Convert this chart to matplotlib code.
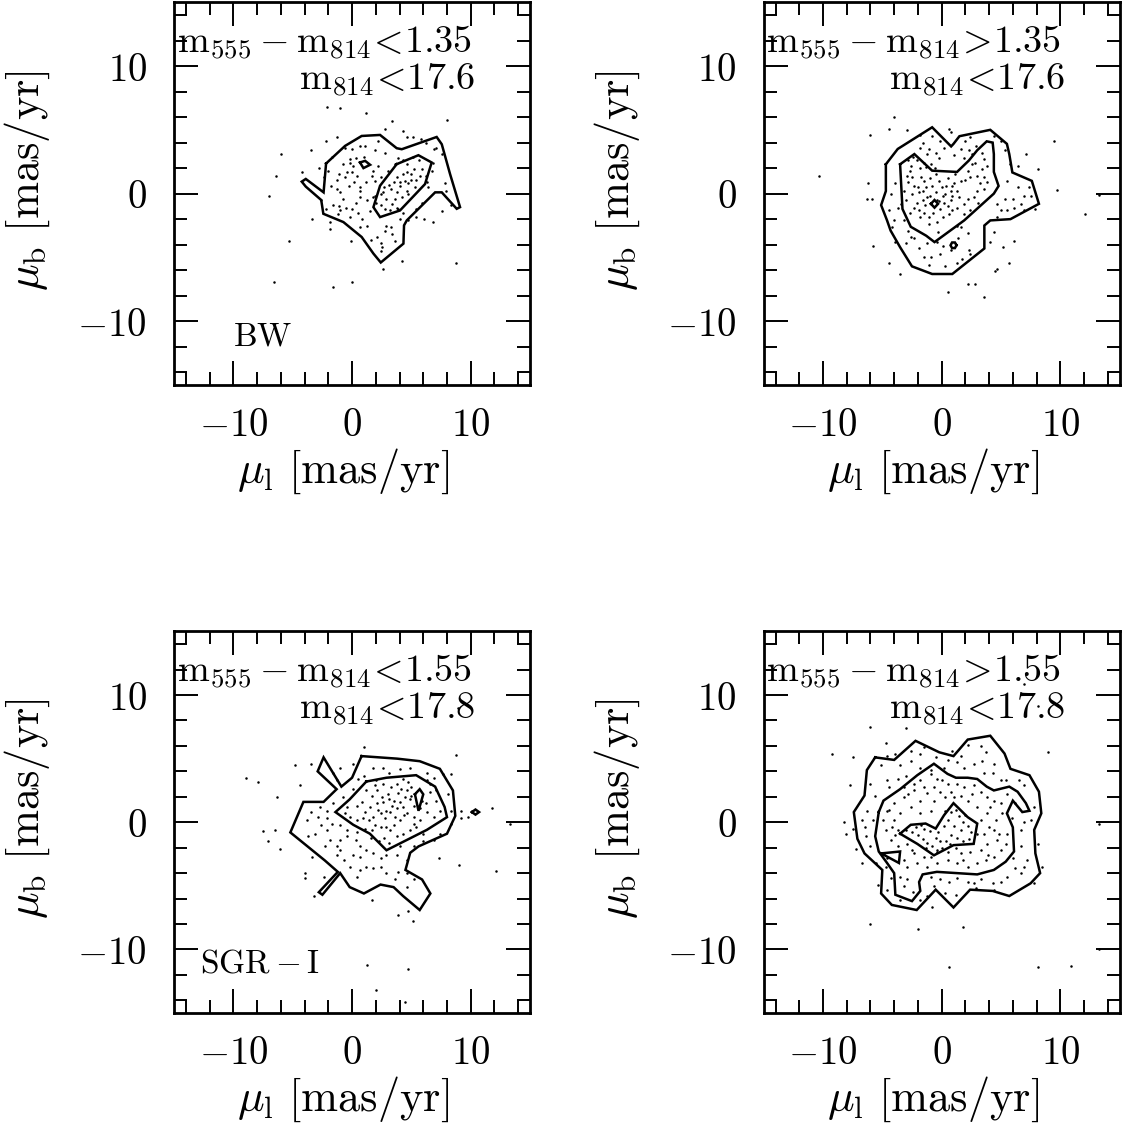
import matplotlib
matplotlib.use("Agg")
import matplotlib.pyplot as plt
from matplotlib.ticker import MultipleLocator, FixedLocator, FixedFormatter
import numpy as np

plt.rcParams['mathtext.fontset'] = 'cm'
plt.rcParams['font.family'] = ['DejaVu Serif']

# ---------------- datos: BW, azul (m555-m814<1.35) ----------------
bw_pts = [(1.2, 6.3), (3.4, 5.7), (8.0, 5.8), (2.8, 5.1), (4.3, 4.9), (4.6, 4.4), (5.1, 4.4),
          (5.8, 4.3), (6.2, 4.0), (-1.3, 4.4), (-2.2, 4.1), (-3.5, 3.4), (-6.0, 3.1), (-6.4, 1.4),
          (-7.0, -0.2), (-4.2, 1.7), (-2.8, 2.0), (-2.4, 1.3), (-2.0, 1.8), (-0.6, 3.6), (0.0, 3.5),
          (0.7, 3.7), (1.1, 3.7), (1.9, 3.4), (2.8, 3.2), (2.2, 4.1), (3.9, 2.8), (3.6, 2.3),
          (4.3, 2.6), (-0.2, 2.7), (0.3, 2.8), (-0.2, 2.4), (0.1, 2.2), (-0.8, 2.3), (-0.4, 1.7),
          (0.0, 1.7), (-1.1, 1.5), (-1.3, 1.1), (-0.6, 1.3), (0.4, 1.4), (0.7, 0.5), (1.2, 0.9),
          (1.7, 1.4), (1.8, 1.8), (2.2, 2.2), (1.9, 1.0), (2.4, 1.3), (-1.3, 0.4), (-1.0, 0.1),
          (-0.3, 0.6), (0.7, 0.2), (1.3, -0.5), (1.8, -0.3), (0.7, -0.3), (-2.6, -0.5), (-1.6, -0.9),
          (-1.1, -1.0), (-0.5, -1.1), (0.0, -1.2), (-1.0, -1.3), (-1.2, -1.6), (-0.2, -1.8),
          (0.5, -1.5), (0.8, -2.0), (1.3, -2.5), (0.7, -2.6), (-3.4, -2.0), (-1.9, -2.2),
          (-1.9, -2.8), (-5.3, -3.7), (-0.1, -3.7), (2.1, -3.4), (2.9, -2.5), (3.3, -2.6),
          (2.8, -2.9), (3.4, -3.2), (3.6, -3.7), (2.4, -3.9), (2.5, -4.2), (2.4, -4.5), (4.2, -5.3),
          (2.6, -5.9), (8.8, -5.4), (-6.6, -6.9), (-1.6, -7.3), (0.0, -6.9), (4.7, -2.1),
          (5.4, -1.8), (6.1, -2.0), (6.8, -2.2), (7.6, -1.4), (8.3, -0.9), (5.9, -0.7), (5.4, -1.2),
          (4.3, -1.5), (3.9, -1.2), (7.8, 0.8), (7.9, 0.2), (6.4, 0.5), (6.3, 0.9), (6.2, 1.4),
          (6.7, 1.8), (6.9, 3.5), (7.1, 3.6), (7.6, 3.1), (6.8, 2.4), (4.6, 2.3), (5.2, 1.9),
          (5.6, 2.6), (5.9, 1.9), (5.7, 1.4), (5.4, 1.1), (5.0, 1.5), (4.6, 1.7), (4.3, 1.5),
          (4.5, 1.0), (4.0, 0.9), (3.8, 1.3), (3.5, 0.9), (3.3, 0.4), (3.8, 0.1), (4.0, 0.6),
          (4.7, 0.8), (5.3, 0.5), (4.6, 0.2), (4.2, -0.3), (3.6, -0.4), (3.4, -0.8), (2.9, -0.4),
          (2.6, 0.1), (2.7, 0.5), (2.4, 0.0), (1.9, -0.2), (2.0, -0.7), (2.4, -0.9), (2.8, -1.2),
          (3.2, -1.3), (3.8, -1.1), (3.1, 0.7), (4.7, 0.0), (5.0, 1.1), (-2.1, 6.8), (-1.0, 6.7),
          (-1.8, 0.6), (-0.8, -0.4), (0.3, -0.7), (1.0, 2.9), (-1.7, 2.9), (3.0, 1.8), (5.1, 2.9),
          (4.0, -2.0), (1.6, -3.6), (-2.2, -1.2), (0.2, 0.9), (1.5, -1.4)]
bw_outer = [(-2.19, 2.36), (-0.59, 3.74), (0.81, 4.52), (2.36, 4.60), (3.76, 3.56), (4.19, 3.48),
            (7.13, 4.44), (7.56, 3.87), (8.26, 1.53), (9.10, -1.06), (8.82, -1.19), (7.56, 0.10),
            (7.0, 0.1), (4.61, -2.10), (4.38, -2.49), (4.33, -3.92), (2.42, -5.40), (1.80, -4.70),
            (0.81, -3.40), (-0.73, -2.23), (-2.42, -1.58), (-2.60, -0.50), (-3.90, 0.55),
            (-4.24, 0.94), (-3.90, 1.15), (-2.40, 0.10), (-2.19, 2.36)]
bw_inner = [(3.76, 2.31), (5.59, 3.01), (6.71, 2.44), (6.15, 0.75), (4.04, -1.32), (2.36, -1.84),
            (1.80, -1.06), (2.36, 0.62), (3.76, 2.31)]
bw_loop = [(0.67, 2.44), (1.10, 2.57), (1.52, 2.26), (0.96, 2.00), (0.67, 2.44)]

# ---------------- BW, rojo (m555-m814>1.35) ----------------
bwr_pts = [(-4.0, 6.0), (-6.0, 4.6), (-4.4, 5.1), (-2.9, 5.0), (0.6, 5.1), (9.5, 4.1), (7.1, 3.1),
           (8.1, 1.9), (9.7, 0.3), (13.3, -0.1), (12.1, -1.6), (-6.2, 0.8), (-6.3, -0.4),
           (-5.9, -0.4), (-5.8, -4.1), (-4.4, -5.4), (-3.5, -6.3), (0.5, -7.7), (2.2, -7.1),
           (2.8, -7.1), (3.6, -8.1), (4.7, -5.9), (4.5, -6.1), (5.7, -5.4), (5.2, -4.2), (6.1, -3.7),
           (4.1, -3.8), (4.4, -3.0), (-1.6, 4.0), (-1.8, 3.6), (-1.1, 3.5), (-0.1, 4.1), (0.2, 3.6),
           (-0.2, 2.8), (-1.2, 3.1), (-0.5, 3.2), (-1.5, 2.4), (-0.9, 2.3), (-1.3, 2.1), (-2.1, 2.6),
           (-2.8, 2.6), (-2.7, 1.8), (-2.9, 1.4), (-2.5, 1.3), (-2.8, 0.9), (-3.2, 0.2), (-2.3, 0.6),
           (-1.9, 0.1), (-1.6, 0.2), (-1.3, 0.5), (-0.8, 0.6), (-1.2, -0.3), (-1.6, -0.5),
           (-2.1, -0.7), (-2.3, -1.1), (-1.9, -1.3), (-1.5, -1.5), (-1.1, -1.8), (-1.8, -1.8),
           (-1.1, -2.4), (-0.4, -2.2), (0.1, -1.8), (0.6, -1.6), (-0.1, -1.2), (0.2, -0.7),
           (0.8, -0.5), (0.3, 0.0), (0.8, 0.2), (1.3, 0.2), (0.9, 0.6), (1.6, 1.0), (2.0, 1.1),
           (2.4, 1.3), (3.0, 1.4), (2.2, 1.8), (2.6, 2.3), (1.9, 2.8), (1.6, 3.5), (2.3, 3.4),
           (2.6, 3.1), (3.4, 3.2), (3.6, 2.7), (3.8, 2.2), (3.4, 1.9), (3.6, 1.3), (3.8, 0.9),
           (3.6, 0.4), (3.0, 0.2), (2.7, -0.3), (2.2, -0.4), (1.9, -0.8), (1.3, -1.1), (2.4, -1.3),
           (1.9, -1.6), (1.6, -2.6), (1.3, -2.5), (2.2, -3.1), (2.3, -4.4), (2.4, -4.7), (1.7, -5.1),
           (1.3, -5.4), (0.3, -5.7), (0.8, -4.4), (-0.1, -4.7), (-0.9, -5.0), (-1.5, -5.0),
           (-1.9, -4.3), (-2.3, -3.5), (-2.6, -3.4), (-1.2, -3.9), (-0.4, -3.8), (0.1, -4.1),
           (-1.1, -5.6), (-3.0, -3.9), (-3.9, -3.8), (-4.2, -2.6), (-4.0, -2.1), (-4.4, -1.3),
           (-4.3, 0.0), (-3.9, 0.8), (-3.7, -1.1), (-3.2, -2.1), (-2.8, -2.9), (6.4, 2.2), (5.8, 2.3),
           (5.5, 1.0), (6.4, 0.5), (7.4, 0.5), (6.9, -0.2), (7.5, -0.2), (6.7, -0.8), (6.1, -1.1),
           (5.5, -1.3), (5.0, -1.3), (4.7, -0.8), (5.3, -0.4), (6.0, -0.4), (6.9, -1.3), (7.9, -1.2),
           (4.7, -1.8), (5.3, 3.4), (4.4, 4.5), (5.0, 4.1), (2.4, 4.4), (2.0, 4.1), (0.8, 4.8),
           (-1.8, 4.6), (-0.8, 4.5), (-0.4, -0.5), (0.0, 0.5), (0.1, -0.2), (-0.5, 0.1), (-1.0, -0.2),
           (-2.0, 0.5), (-1.5, 1.0), (-0.5, 1.5), (0.5, 1.2), (1.0, 0.8), (1.5, -0.3), (0.5, -1.0),
           (-0.7, -1.5), (-1.8, 2.0), (-2.5, 0.0), (-3.0, -0.5), (-2.6, 2.2), (3.2, 0.8), (2.8, 2.4),
           (1.0, 3.0), (-0.2, 1.0), (0.4, 0.6), (-1.0, 1.2), (-0.2, -0.6), (0.9, -0.2), (-10.3, 1.4),
           (-2.4, 2.9), (-0.6, 2.0), (1.1, 1.5), (-1.4, -0.9), (0.9, -1.3), (-2.7, -1.5), (3.1, -0.7),
           (-0.3, -3.0), (-3.4, -0.8), (2.9, 3.7), (1.4, -3.5), (-1.7, 1.3)]
bwr_outer = [(-4.7, 2.3), (-3.7, 3.5), (-0.8, 5.2), (0.8, 3.7), (1.0, 3.9), (1.5, 4.5), (4.1, 5.0),
             (5.5, 3.9), (5.7, 3.1), (5.96, 1.66), (7.6, 1.0), (8.2, -0.8), (5.8, -2.0), (4.1, -2.1),
             (3.6, -2.5), (3.6, -4.3), (0.9, -6.3), (-0.8, -6.3), (-2.5, -5.7), (-3.5, -4.2),
             (-4.3, -2.9), (-4.6, -2.1), (-5.1, -0.9), (-4.7, 0.2), (-4.7, 2.3)]
bwr_inner = [(-3.5, 2.3), (-2.3, 3.1), (-0.8, 1.8), (1.3, 1.7), (2.3, 2.6), (3.0, 3.4), (3.8, 4.1),
             (4.3, 4.0), (4.4, 3.1), (4.4, 1.7), (4.8, 0.6), (4.4, 0.0), (1.9, -2.1), (-0.6, -3.8),
             (-1.3, -3.3), (-2.6, -2.6), (-3.3, -1.2), (-3.5, 2.3)]
bwr_box = [(-0.9, -0.8), (-0.6, -0.5), (-0.3, -0.8), (-0.6, -1.1), (-0.9, -0.8)]
bwr_ring = [(1.25, -4.05), (1.12, -3.83), (0.88, -3.83), (0.75, -4.05), (0.88, -4.27),
            (1.12, -4.27), (1.25, -4.05)]

# ---------------- SGR-I, azul (m555-m814<1.55) ----------------
sg_pts = [(1.0, 5.9), (8.8, 5.3), (-8.9, 3.5), (-7.9, 3.2), (-4.8, 4.5), (-3.5, 4.6), (-4.4, 2.9),
          (-6.3, 2.0), (-7.5, -0.7), (-6.5, -0.6), (-7.1, -1.5), (-6.1, -2.1), (-3.4, -2.7),
          (-4.0, -4.0), (-4.0, -4.4), (-2.4, -4.3), (9.2, 0.3), (9.8, 0.4), (9.2, 0.9), (11.8, 1.1),
          (13.3, -0.1), (9.0, -3.4), (12.1, -3.8), (7.3, -2.8), (3.9, -7.3), (4.7, -7.0), (5.1, -7.8),
          (-3.2, -5.8), (1.7, -6.1), (8.3, 3.8), (1.3, -11.2), (4.7, -11.5), (2.0, -13.2),
          (4.5, -14.1), (8.9, 9.0), (1.2, 2.5), (1.7, 2.1), (2.1, 2.5), (2.6, 3.0), (3.3, 2.8),
          (3.8, 3.0), (4.3, 3.4), (4.7, 3.2), (5.0, 2.8), (6.3, 3.3), (6.6, 3.0), (6.9, 3.5),
          (6.6, 2.4), (7.1, 1.7), (7.4, 0.9), (6.9, 0.4), (6.3, 0.8), (6.2, 1.5), (4.9, 1.8),
          (4.5, 2.0), (4.0, 1.6), (3.5, 1.7), (3.1, 1.8), (2.6, 1.6), (2.1, 1.5), (1.5, 1.2),
          (1.1, 0.8), (1.4, 0.2), (1.8, 0.4), (2.4, 0.7), (2.8, 0.3), (3.2, 0.8), (3.6, 0.4),
          (4.0, 0.2), (4.6, 0.7), (5.2, 0.4), (5.7, 0.2), (5.4, -0.4), (4.9, -0.6), (4.3, -0.9),
          (3.8, -1.1), (3.2, -0.6), (2.9, -0.4), (2.4, -0.4), (1.9, -0.2), (1.7, -0.6), (1.1, -0.5),
          (0.4, 0.2), (-0.2, 0.4), (-0.6, 0.7), (-0.4, 1.2), (0.4, 1.3), (0.8, 1.6), (2.9, 0.9),
          (3.8, 1.1), (4.3, 1.2), (5.2, 1.3), (5.9, 1.7), (7.1, 2.5), (4.6, 2.5), (5.2, -0.1),
          (-1.0, 4.3), (-1.6, 3.9), (-1.3, 3.3), (0.1, 4.6), (1.8, 4.3), (2.6, 4.3), (4.0, 4.2),
          (4.9, 4.3), (6.3, 3.9), (7.7, 3.8), (8.1, 2.2), (8.3, 0.9), (8.3, -0.1), (7.4, -0.9),
          (6.9, -1.4), (6.0, -1.5), (5.2, -1.9), (4.0, -1.9), (3.8, -2.6), (2.9, -2.6), (2.4, -2.8),
          (1.8, -2.4), (1.2, -2.2), (0.7, -1.9), (0.3, -1.4), (-0.4, -1.1), (-1.0, -1.4),
          (-1.3, -1.9), (-1.9, -1.4), (-2.3, -1.9), (-2.1, -0.6), (-2.6, -0.2), (-3.1, -0.9),
          (-3.7, -1.1), (-3.8, 0.2), (-3.5, 0.8), (-2.7, 1.2), (-2.1, 0.9), (-1.7, -0.1),
          (-1.0, -0.2), (-0.4, -0.6), (0.7, -2.7), (1.2, -3.5), (1.8, -3.6), (2.4, -3.5),
          (2.9, -4.0), (0.7, -3.75), (0.4, -4.3), (-0.2, -3.5), (-0.7, -3.0), (-1.0, -2.2),
          (4.6, -4.0), (5.2, -4.5), (4.6, -5.1), (3.6, -4.5), (3.9, -3.9), (4.6, -3.0), (-1.3, -2.6),
          (-2.1, 0.3), (0.5, 3.4), (3.1, 3.9), (3.0, 2.2), (3.9, 2.3), (4.4, 0.6), (2.2, 1.0),
          (1.6, -1.2), (2.3, -1.5), (3.1, -1.6), (5.7, 1.1), (6.0, -0.9), (1.0, 3.6), (2.0, 3.3),
          (0.1, 2.6), (-0.8, 2.0), (0.4, -0.8), (-1.6, 1.5), (2.5, 2.0), (3.4, 1.3), (4.1, 2.6),
          (5.0, 2.1), (1.9, 2.9), (0.9, 0.3), (3.5, -0.2), (2.7, -1.2), (-2.9, 0.4), (0.1, -2.6)]
sg_outer = [(0.8, 5.2), (3.8, 5.0), (5.7, 4.8), (7.4, 4.2), (8.5, 2.5), (8.7, 0.5), (8.0, -0.9),
            (5.6, -1.9), (4.9, -2.4), (4.5, -3.75), (5.9, -4.5), (6.6, -5.6), (5.7, -6.9),
            (4.3, -5.8), (3.5, -5.1), (2.4, -4.9), (1.0, -5.6), (-0.2, -5.1), (-1.0, -4.0),
            (-2.5, -5.7), (-2.8, -5.5), (-1.2, -3.9), (-2.3, -3.0), (-5.2, -0.8), (-4.1, 1.6),
            (-2.4, 1.6), (-1.3, 2.6), (-2.9, 4.0), (-2.4, 5.1), (-0.9, 2.8), (0.0, 3.5), (0.8, 5.2)]
sg_inner = [(1.2, 3.2), (2.9, 3.5), (5.4, 3.7), (7.0, 2.8), (7.8, 1.2), (8.0, 0.4), (6.3, -0.6),
            (4.6, -1.4), (2.9, -2.2), (1.5, -0.9), (0.1, -0.2), (-1.4, 0.8), (-0.2, 1.8), (1.2, 3.2)]
sg_kite = [(5.3, 2.2), (5.7, 2.6), (6.0, 2.2), (5.6, 0.9), (5.3, 2.2)]
sg_diamond = [(10.1, 0.8), (10.4, 1.0), (10.7, 0.8), (10.4, 0.6), (10.1, 0.8)]

# ---------------- SGR-I, rojo (m555-m814>1.55) ----------------
sgr_pts = [(-6.0, 7.5), (-9.2, 5.4), (-7.5, 5.1), (-4.7, 6.2), (9.0, 5.5), (-7.7, 2.9), (-8.2, 0.0),
           (-8.1, -0.9), (-7.5, -0.5), (-7.2, -2.1), (-6.7, -3.2), (-5.4, -4.9), (8.1, -1.7),
           (8.5, -3.5), (13.3, -0.1), (-6.0, -8.0), (-2.0, -8.4), (1.8, -8.2), (0.6, -11.4),
           (8.1, -11.4), (10.9, -11.3), (13.3, -10.0), (-0.8, -6.7), (7.8, -4.8), (-3.0, 7.4),
           (6.9, 10.9), (8.1, 9.1), (-4.6, 5.2), (-3.9, 5.4), (-2.6, 5.6), (-1.8, 5.4), (-1.5, 5.9),
           (-0.5, 5.1), (0.5, 4.9), (1.6, 5.2), (2.2, 6.1), (3.3, 6.0), (3.7, 5.5), (3.4, 4.8),
           (4.4, 4.6), (4.3, 3.9), (3.6, 3.9), (2.7, 4.6), (1.9, 4.3), (1.3, 4.7), (0.2, 4.3),
           (-0.9, 4.1), (-1.8, 4.3), (-2.6, 4.8), (-3.5, 4.5), (-5.1, 4.5), (-6.0, 3.0), (-5.6, 2.1),
           (-6.3, 0.9), (-6.7, 0.15), (-6.5, -0.4), (-6.4, -1.1), (-6.0, -1.9), (-5.8, 0.15),
           (-4.6, 3.3), (-4.4, 2.8), (-3.7, 3.4), (5.0, 3.3), (5.4, 3.3), (6.5, 3.3), (6.9, 2.9),
           (7.8, 1.2), (7.5, 0.15), (6.9, 0.0), (6.7, -0.6), (6.7, -1.9), (7.2, -3.0), (6.9, -3.5),
           (6.2, -3.6), (6.7, -4.0), (5.5, -4.3), (5.0, -4.7), (4.3, -4.8), (4.4, -5.3), (3.3, -4.5),
           (2.7, -4.8), (2.2, -4.7), (1.3, -4.4), (0.6, -4.7), (-0.1, -4.5), (-0.9, -4.3),
           (-0.65, -5.05), (0.3, -5.6), (1.2, -5.7), (-1.2, -5.8), (-1.8, -6.1), (-3.2, -5.05),
           (-3.5, -4.3), (-2.9, -4.5), (-4.7, -3.5), (-4.3, -4.4), (-4.6, -5.3), (-3.5, -6.1),
           (-4.9, -2.4), (-4.6, -2.8), (5.5, 2.2), (6.2, 1.5), (-1.8, 3.3), (-0.9, 3.8), (-0.4, 3.4),
           (0.5, 3.0), (1.3, 3.0), (1.9, 2.8), (2.7, 2.9), (3.3, 2.4), (3.8, 2.0), (4.4, 1.7),
           (5.0, 1.5), (5.1, 0.7), (4.55, 0.15), (4.4, -0.6), (4.7, -1.4), (5.0, -2.2), (4.4, -2.7),
           (3.7, -3.0), (3.0, -3.2), (2.2, -3.5), (1.3, -3.2), (0.5, -3.0), (-0.4, -3.2), (-1.2, -3.5),
           (-2.05, -3.2), (-2.9, -3.5), (-3.2, -3.0), (-3.7, -1.9), (-4.3, -1.4), (-4.7, -0.6),
           (-4.9, 0.15), (-4.6, 0.9), (-4.0, 1.5), (-3.2, 2.0), (-2.3, 2.5), (-1.5, 2.8),
           (-0.65, 2.8), (-0.1, 2.4), (0.3, 2.0), (-0.65, 1.7), (-1.8, 1.7), (-2.6, 1.2), (-3.5, 0.7),
           (-4.0, 0.15), (-4.2, -0.4), (-3.7, -0.6), (-2.9, -1.7), (-2.3, -2.45), (-1.5, -2.7),
           (-0.4, -2.3), (0.5, -2.3), (1.6, -2.45), (2.4, -2.3), (3.3, -2.2), (3.8, -1.7), (3.6, -0.9),
           (3.3, 0.15), (3.8, 0.7), (3.0, 1.2), (2.2, 1.7), (1.6, 2.1), (0.8, 2.4), (-0.9, 0.9),
           (-1.8, 0.7), (3.0, -0.9), (4.0, -0.4), (-2.3, 3.0), (-3.2, 2.8), (5.5, -0.9), (5.4, -1.7),
           (-3.0, -0.6), (-2.5, -0.8), (-2.0, -1.0), (-1.6, -1.3), (-1.2, -1.6), (-0.8, -1.9),
           (-0.5, -1.2), (-1.0, -0.7), (-1.5, -0.5), (-0.3, -0.8), (0.2, -0.3), (0.5, 0.2), (0.8, 0.8),
           (1.2, 1.0), (1.5, 0.5), (1.8, 0.0), (2.2, -0.3), (2.5, -0.8), (2.3, -1.3), (1.8, -1.5),
           (1.3, -1.2), (0.8, -1.0), (0.4, -1.5), (0.0, -2.0), (-0.4, -2.2), (-1.7, -0.2),
           (-2.2, -0.4), (1.0, -0.3), (1.6, -0.6), (-0.1, -1.5), (0.7, -1.7), (-1.3, -2.0), (2.0, 0.6),
           (1.2, -2.0), (0.3, 0.9), (-2.8, 2.2), (-1.2, 2.3), (0.0, 3.3), (1.0, 2.0), (2.6, 2.2),
           (4.1, 1.2), (4.8, -0.9), (3.9, -2.6), (1.8, -3.0), (-0.9, -2.7), (-2.5, -2.2), (-3.9, -1.0),
           (-4.4, 1.0), (-3.0, 3.6), (6.0, -2.8), (5.9, 0.3), (-5.5, -3.2), (-2.4, -5.5), (2.9, -5.2),
           (0.9, 5.6)]
sgr_outer = [(-5.6, 5.1), (-4.0, 4.9), (-2.2, 6.4), (-0.2, 5.5), (1.0, 5.2), (2.2, 6.5), (4.1, 6.8),
             (5.3, 5.4), (5.8, 4.2), (7.4, 3.7), (8.2, 2.4), (8.4, 0.7), (7.8, -0.6), (7.9, -2.45),
             (8.3, -4.0), (7.5, -4.8), (5.7, -5.8), (4.3, -5.4), (2.4, -5.3), (1.0, -6.7), (-0.5, -5.3),
             (-2.1, -6.9), (-4.2, -6.5), (-5.1, -5.6), (-5.0, -3.75), (-6.5, -2.45), (-7.1, -1.3),
             (-7.4, 0.8), (-6.5, 2.1), (-6.3, 4.1), (-5.6, 5.1)]
sgr_mid = [(-5.3, 0.8), (-4.9, 1.7), (-3.5, 2.6), (-2.05, 3.7), (-0.65, 4.6), (0.5, 3.8), (1.2, 3.5),
           (2.2, 3.5), (3.0, 3.4), (3.8, 2.8), (4.4, 2.5), (5.7, 2.8), (6.4, 2.4), (7.1, 1.5),
           (7.4, 0.9), (6.8, 0.8), (6.0, 1.7), (5.5, 0.7), (6.0, -0.4), (6.1, -2.3), (5.4, -3.1),
           (4.4, -3.75), (3.0, -4.1), (1.3, -4.0), (-0.4, -3.9), (-1.6, -4.1), (-1.9, -4.7),
           (-1.8, -5.4), (-2.5, -6.2), (-3.9, -5.7), (-4.0, -4.0), (-4.6, -3.2), (-5.3, -2.3),
           (-5.6, -1.1), (-5.4, 0.15), (-5.3, 0.8)]
sgr_tri = [(-5.1, -2.45), (-3.5, -2.3), (-3.6, -3.2), (-5.1, -2.45)]
sgr_inner = [(-3.5, -0.9), (-2.6, -0.2), (-1.35, -0.1), (-0.5, -0.5), (0.2, 0.55), (1.0, 1.5),
             (2.2, 0.4), (3.0, -0.1), (2.7, -1.7), (1.0, -1.8), (-0.65, -2.6), (-2.05, -1.7),
             (-3.5, -0.9)]

panels = [
    dict(pts=bw_pts, lines=[bw_outer, bw_inner, bw_loop],
         txt1=r'$\mathrm{m}_{555}-\mathrm{m}_{814}\!<\!1.35$', txt2=r'$\mathrm{m}_{814}\!<\!17.6$',
         field=r'$\mathrm{BW}$', fpos=(0.166, 0.104)),
    dict(pts=bwr_pts, lines=[bwr_outer, bwr_inner, bwr_box, bwr_ring],
         txt1=r'$\mathrm{m}_{555}-\mathrm{m}_{814}\!>\!1.35$', txt2=r'$\mathrm{m}_{814}\!<\!17.6$',
         field=None, fpos=None),
    dict(pts=sg_pts, lines=[sg_outer, sg_inner, sg_kite, sg_diamond],
         txt1=r'$\mathrm{m}_{555}-\mathrm{m}_{814}\!<\!1.55$', txt2=r'$\mathrm{m}_{814}\!<\!17.8$',
         field=r'$\mathrm{SGR-I}$', fpos=(0.072, 0.105)),
    dict(pts=sgr_pts, lines=[sgr_outer, sgr_mid, sgr_tri, sgr_inner],
         txt1=r'$\mathrm{m}_{555}-\mathrm{m}_{814}\!>\!1.55$', txt2=r'$\mathrm{m}_{814}\!<\!17.8$',
         field=None, fpos=None),
]

fig = plt.figure(figsize=(11.23, 11.29), dpi=100)
rects = [[0.155, 0.659, 0.317, 0.339], [0.680, 0.659, 0.317, 0.339],
         [0.155, 0.1027, 0.317, 0.338], [0.680, 0.1027, 0.317, 0.338]]

for rect, p in zip(rects, panels):
    ax = fig.add_axes(rect)
    pts = np.array(p['pts'])
    ax.plot(pts[:, 0], pts[:, 1], 'o', color='k', markersize=1.8, markeredgewidth=0)
    for ln in p['lines']:
        ln = np.array(ln)
        ax.plot(ln[:, 0], ln[:, 1], '-', color='k', linewidth=1.8, solid_joinstyle='miter')
    ax.set_xlim(-15, 15)
    ax.set_ylim(-15, 15)
    ax.xaxis.set_major_locator(FixedLocator([-10, 0, 10]))
    ax.yaxis.set_major_locator(FixedLocator([-10, 0, 10]))
    ax.xaxis.set_major_formatter(FixedFormatter([r'$-10$', r'$0$', r'$10$']))
    ax.yaxis.set_major_formatter(FixedFormatter([r'$-10$', r'$0$', r'$10$']))
    ax.xaxis.set_minor_locator(MultipleLocator(2))
    ax.yaxis.set_minor_locator(MultipleLocator(2))
    ax.tick_params(which='both', direction='in', top=True, right=True, width=1.4, labelsize=28)
    ax.tick_params(which='major', length=17.5)
    ax.tick_params(which='minor', length=9.5)
    ax.tick_params(axis='x', which='major', pad=15.5)
    ax.tick_params(axis='y', which='major', pad=19.5)
    for s in ax.spines.values():
        s.set_linewidth(2.0)
    ax.set_xlabel(r'$\mu_\mathrm{l}\ [\mathrm{mas/yr}]$', fontsize=32)
    ax.set_ylabel(r'$\mu_\mathrm{b}\ [\mathrm{mas/yr}]$', fontsize=32)
    ax.xaxis.set_label_coords(0.475, -0.162)
    ax.yaxis.set_label_coords(-0.343, 0.535)
    ax.text(0.008, 0.867, p['txt1'], transform=ax.transAxes, fontsize=27.5,
            ha='left', va='baseline')
    ax.text(0.846, 0.770, p['txt2'], transform=ax.transAxes, fontsize=27.5,
            ha='right', va='baseline')
    if p['field']:
        ax.text(p['fpos'][0], p['fpos'][1], p['field'], transform=ax.transAxes,
                fontsize=24, ha='left', va='baseline')

fig.savefig('out.png', dpi=100)
